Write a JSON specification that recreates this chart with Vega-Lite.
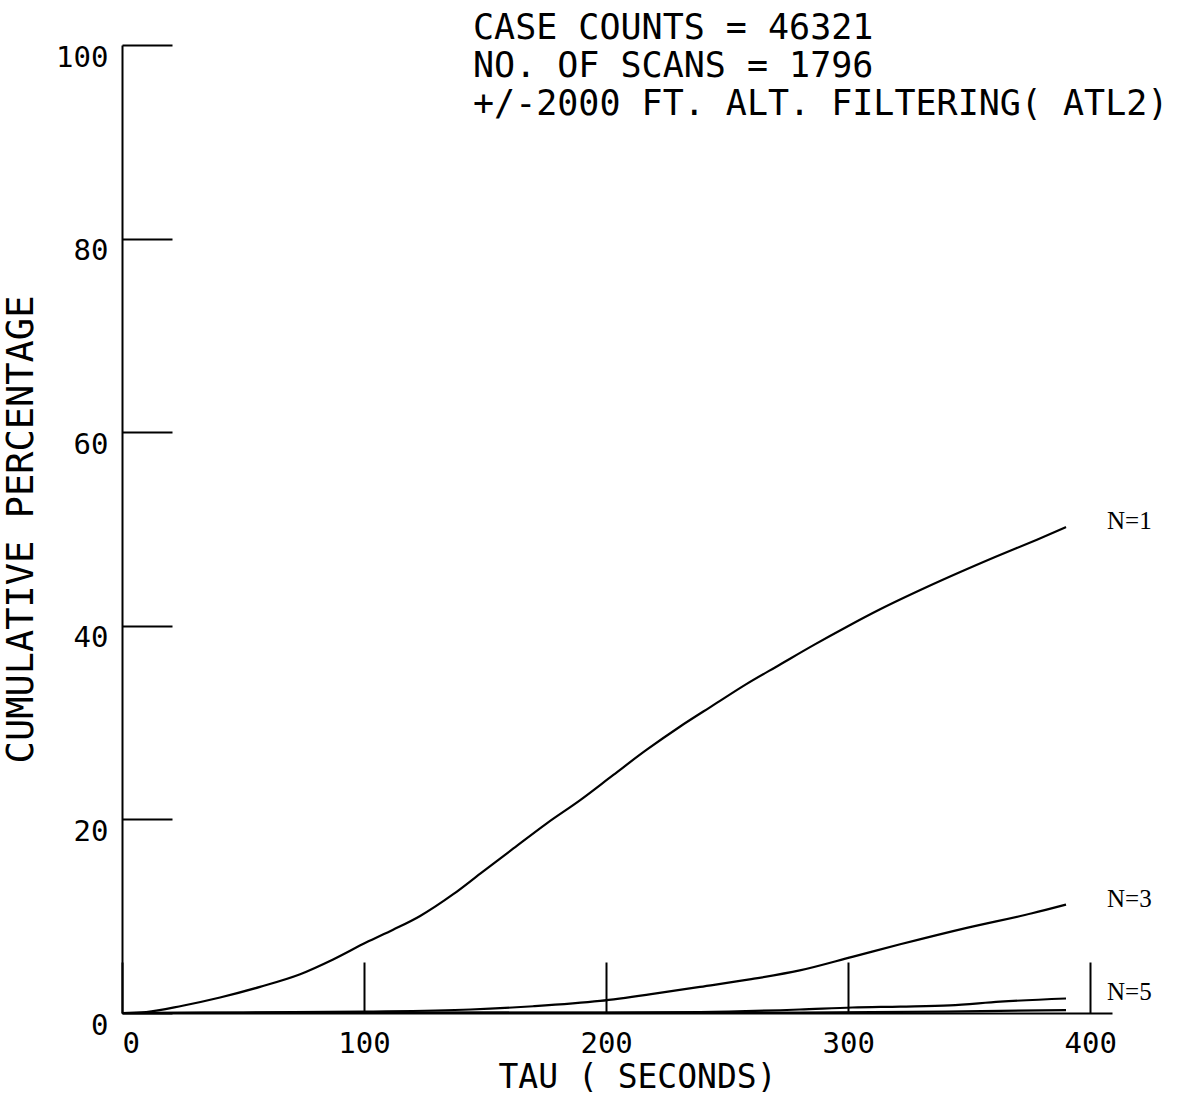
{
  "$schema": "https://vega.github.io/schema/vega-lite/v6.json",
  "width": 990,
  "height": 968,
  "autosize": {"type": "none"},
  "padding": {"left": 122, "top": 45, "right": 73, "bottom": 84},
  "background": "white",
  "title": {
    "text": ["CASE COUNTS = 46321", "NO. OF SCANS = 1796", "+/-2000 FT. ALT. FILTERING( ATL2)"],
    "anchor": "start",
    "frame": "group",
    "dx": 351,
    "offset": -79,
    "baseline": "top",
    "font": "DejaVu Sans Mono",
    "fontSize": 35,
    "fontWeight": "normal",
    "lineHeight": 38,
    "color": "black"
  },
  "config": {
    "view": {"stroke": null},
    "axis": {
      "grid": false,
      "domainColor": "black",
      "domainWidth": 2,
      "tickColor": "black",
      "tickWidth": 2,
      "labelColor": "black",
      "titleColor": "black",
      "labelFont": "DejaVu Sans Mono",
      "titleFont": "DejaVu Sans Mono",
      "titleFontWeight": "normal"
    }
  },
  "datasets": {
    "curves": [
      {"series": "N=1", "tau": 0, "pct": 0},
      {"series": "N=1", "tau": 10, "pct": 0.1},
      {"series": "N=1", "tau": 25, "pct": 0.75},
      {"series": "N=1", "tau": 40.5, "pct": 1.6},
      {"series": "N=1", "tau": 57, "pct": 2.7},
      {"series": "N=1", "tau": 73.6, "pct": 4.0},
      {"series": "N=1", "tau": 87, "pct": 5.5},
      {"series": "N=1", "tau": 101, "pct": 7.3},
      {"series": "N=1", "tau": 112, "pct": 8.6},
      {"series": "N=1", "tau": 123, "pct": 10.0},
      {"series": "N=1", "tau": 137, "pct": 12.3},
      {"series": "N=1", "tau": 148, "pct": 14.4},
      {"series": "N=1", "tau": 161.7, "pct": 17.0},
      {"series": "N=1", "tau": 175.5, "pct": 19.6},
      {"series": "N=1", "tau": 189.3, "pct": 22.0},
      {"series": "N=1", "tau": 203, "pct": 24.6},
      {"series": "N=1", "tau": 216.8, "pct": 27.2},
      {"series": "N=1", "tau": 230.6, "pct": 29.6},
      {"series": "N=1", "tau": 244.3, "pct": 31.8},
      {"series": "N=1", "tau": 258.1, "pct": 34.0},
      {"series": "N=1", "tau": 271.9, "pct": 36.0},
      {"series": "N=1", "tau": 285.7, "pct": 38.0},
      {"series": "N=1", "tau": 299.5, "pct": 39.9},
      {"series": "N=1", "tau": 313.2, "pct": 41.7},
      {"series": "N=1", "tau": 332.5, "pct": 44.0},
      {"series": "N=1", "tau": 360.7, "pct": 47.1},
      {"series": "N=1", "tau": 378, "pct": 48.9},
      {"series": "N=1", "tau": 390, "pct": 50.2},
      {"series": "N=3", "tau": 0, "pct": 0},
      {"series": "N=3", "tau": 50, "pct": 0.05},
      {"series": "N=3", "tau": 100, "pct": 0.15},
      {"series": "N=3", "tau": 144, "pct": 0.36},
      {"series": "N=3", "tau": 170, "pct": 0.7},
      {"series": "N=3", "tau": 197.5, "pct": 1.25},
      {"series": "N=3", "tau": 220, "pct": 2.0},
      {"series": "N=3", "tau": 238.8, "pct": 2.7},
      {"series": "N=3", "tau": 260, "pct": 3.5},
      {"series": "N=3", "tau": 280, "pct": 4.4},
      {"series": "N=3", "tau": 301.7, "pct": 5.8},
      {"series": "N=3", "tau": 321.5, "pct": 7.1},
      {"series": "N=3", "tau": 349, "pct": 8.8},
      {"series": "N=3", "tau": 376, "pct": 10.3},
      {"series": "N=3", "tau": 390, "pct": 11.2},
      {"series": "N=5", "tau": 0, "pct": 0},
      {"series": "N=5", "tau": 100, "pct": 0.02},
      {"series": "N=5", "tau": 200, "pct": 0.05},
      {"series": "N=5", "tau": 238.8, "pct": 0.1},
      {"series": "N=5", "tau": 280, "pct": 0.36},
      {"series": "N=5", "tau": 301.7, "pct": 0.57},
      {"series": "N=5", "tau": 321.5, "pct": 0.66},
      {"series": "N=5", "tau": 342, "pct": 0.78},
      {"series": "N=5", "tau": 362.8, "pct": 1.17},
      {"series": "N=5", "tau": 390, "pct": 1.5},
      {"series": "unlabelled", "tau": 0, "pct": 0},
      {"series": "unlabelled", "tau": 280, "pct": 0.05},
      {"series": "unlabelled", "tau": 340, "pct": 0.15},
      {"series": "unlabelled", "tau": 390, "pct": 0.3}
    ]
  },
  "data": {"name": "curves"},
  "encoding": {
    "x": {
      "field": "tau",
      "type": "quantitative",
      "scale": {"domain": [0, 409], "nice": false},
      "axis": {
        "title": "TAU ( SECONDS)",
        "values": [0, 100, 200, 300, 400],
        "tickSize": -51,
        "labelPadding": 67,
        "labelFontSize": 29,
        "titleFontSize": 33,
        "titlePadding": 3,
        "titleX": 515
      }
    },
    "y": {
      "field": "pct",
      "type": "quantitative",
      "scale": {"domain": [0, 100], "nice": false},
      "axis": {
        "title": "CUMULATIVE PERCENTAGE",
        "values": [0, 20, 40, 60, 80, 100],
        "tickSize": -50,
        "labelPadding": 64,
        "labelOffset": 12,
        "labelFontSize": 29,
        "titleFontSize": 37,
        "titlePadding": 15
      }
    }
  },
  "layer": [
    {
      "mark": {"type": "line", "color": "black", "strokeWidth": 2.2, "interpolate": "monotone", "clip": false},
      "encoding": {"detail": {"field": "series"}}
    },
    {
      "transform": [{"filter": "datum.tau == 390 && datum.series != 'unlabelled'"}],
      "mark": {"type": "text", "align": "left", "baseline": "middle", "dx": 41, "dy": -6, "font": "Liberation Serif", "fontSize": 25, "color": "black"},
      "encoding": {"text": {"field": "series"}}
    }
  ]
}
